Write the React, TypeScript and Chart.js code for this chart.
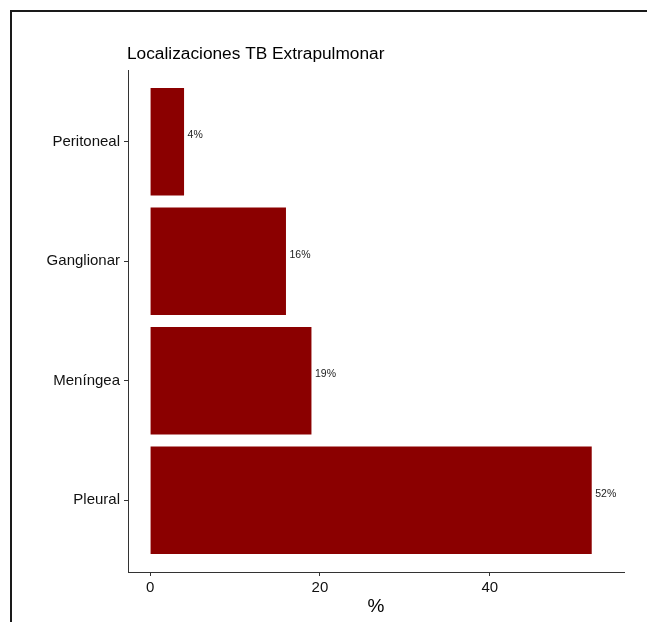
import React, { useEffect, useRef } from "react";
import { Chart, registerables } from "chart.js";

Chart.register(...registerables);

// bottom-to-top order (as in the reference's y axis)
const categories = ["Pleural", "Meníngea", "Ganglionar", "Peritoneal"];
const percentages = [52, 19, 16, 4];
const valueLabels = ["52%", "19%", "16%", "4%"];
const xTicks = [0, 20, 40];
const chartTitle = "Localizaciones TB Extrapulmonar";
const xTitle = "%";

const FONT = "'Liberation Sans', Arial, sans-serif";

const overlayPlugin = {
  id: "overlayText",
  afterDatasetsDraw(chart: any) {
    const { ctx } = chart;
    const meta = chart.getDatasetMeta(0);
    ctx.save();
    ctx.fillStyle = "#222222";
    ctx.font = `10.5px ${FONT}`;
    ctx.textAlign = "left";
    ctx.textBaseline = "middle";
    meta.data.forEach((bar: any, i: number) => {
      ctx.fillText(valueLabels[i], bar.x + 3.5, bar.y - 6.5);
    });
    ctx.restore();
  },
  afterDraw(chart: any) {
    const { ctx, chartArea } = chart;
    ctx.save();
    ctx.fillStyle = "#000000";
    ctx.font = `17.3px ${FONT}`;
    ctx.textAlign = "left";
    ctx.textBaseline = "alphabetic";
    ctx.fillText(chartTitle, chartArea.left - 1, 59);
    ctx.restore();
  },
};

export default function App() {
  const ref = useRef<HTMLCanvasElement | null>(null);

  useEffect(() => {
    if (!ref.current) return;
    const chart = new Chart(ref.current, {
      type: "bar",
      data: {
        datasets: [
          {
            data: categories.map((c, i) => ({ x: percentages[i], y: i + 1 })) as any,
            backgroundColor: "#8B0000",
            borderWidth: 0,
            categoryPercentage: 1,
            barPercentage: 0.9,
          },
        ],
      },
      plugins: [overlayPlugin],
      options: {
        indexAxis: "y",
        animation: false,
        responsive: false,
        maintainAspectRatio: false,
        devicePixelRatio: 1,
        layout: { padding: { left: 0, right: 23, top: 70, bottom: 0 } },
        plugins: {
          legend: { display: false },
          title: { display: false },
          tooltip: { enabled: false },
        },
        scales: {
          x: {
            type: "linear",
            min: -2.6,
            max: 55.8,
            offset: false,
            afterBuildTicks: (scale: any) => {
              scale.ticks = xTicks.map((v) => ({ value: v }));
            },
            afterFit: (scale: any) => {
              scale.height = 50;
            },
            grid: {
              offset: false,
              drawOnChartArea: false,
              drawTicks: true,
              tickLength: 4,
              color: "#333333",
            },
            border: { display: true, color: "#333333", width: 1 },
            ticks: {
              padding: 3,
              color: "#111111",
              font: { family: FONT, size: 15 },
              maxRotation: 0,
            },
            title: {
              display: true,
              text: xTitle,
              color: "#000000",
              font: { family: FONT, size: 19 },
              padding: { top: 0, bottom: 4 },
            },
          },
          y: {
            type: "linear",
            min: 0.4,
            max: 4.6,
            offset: false,
            afterBuildTicks: (scale: any) => {
              scale.ticks = categories.map((_, i) => ({ value: i + 1 }));
            },
            afterFit: (scale: any) => {
              scale.width = 128;
            },
            grid: {
              offset: false,
              drawOnChartArea: false,
              drawTicks: true,
              tickLength: 4,
              color: "#333333",
            },
            border: { display: true, color: "#333333", width: 1 },
            ticks: {
              padding: 4,
              color: "#111111",
              font: { family: FONT, size: 15 },
              callback: (v: any) => categories[Math.round(Number(v)) - 1] ?? "",
            },
          },
        },
      },
    });
    return () => chart.destroy();
  }, []);

  return (
    <div style={{ position: "absolute", left: 0, top: 0, width: 647, height: 622, overflow: "hidden", background: "#ffffff" }}>
      <div
        style={{
          position: "absolute",
          left: 10,
          top: 10,
          width: 700,
          height: 700,
          borderTop: "2px solid #1a1a1a",
          borderLeft: "2px solid #1a1a1a",
        }}
      />
      <canvas ref={ref} width={647} height={622} style={{ position: "absolute", left: 0, top: 0, width: 647, height: 622 }} />
    </div>
  );
}
